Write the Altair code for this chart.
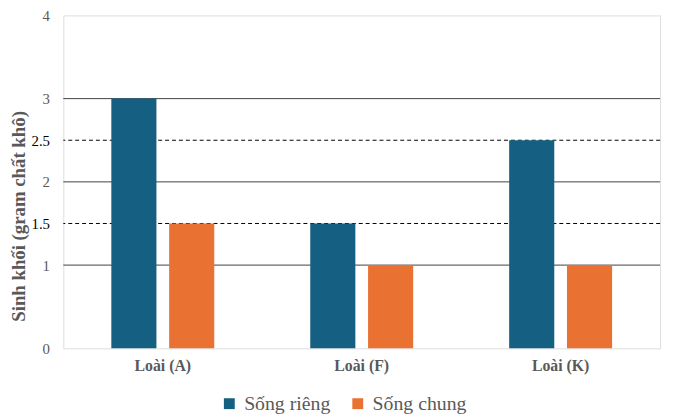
import altair as alt
import pandas as pd

categories = ["Loài (A)", "Loài (F)", "Loài (K)"]
series = ["Sống riêng", "Sống chung"]
song_rieng = [3, 1.5, 2.5]
song_chung = [1.5, 1, 1]
y_ticks = [0, 1, 1.5, 2, 2.5, 3, 4]
solid_grid = [1, 2, 3]
dashed_grid = [1.5, 2.5]
colors = ["#156082", "#E97132"]

FONT = "Liberation Serif"
GREY = "#595959"

rows = []
for c, a, b in zip(categories, song_rieng, song_chung):
    rows.append({"cat": c, "series": series[0], "value": a})
    rows.append({"cat": c, "series": series[1], "value": b})
df = pd.DataFrame(rows)

solid_df = pd.DataFrame({"y": solid_grid})
dashed_df = pd.DataFrame({"y": dashed_grid})

yscale = alt.Scale(domain=[0, 4], nice=False)

solid = alt.Chart(solid_df).mark_rule(color="#404040", strokeWidth=1).encode(
    y=alt.Y("y:Q", scale=yscale)
)
dashed = alt.Chart(dashed_df).mark_rule(color="#000000", strokeWidth=1, strokeDash=[4, 3]).encode(
    y=alt.Y("y:Q", scale=yscale)
)

bars = alt.Chart(df).mark_bar().encode(
    x=alt.X(
        "cat:N",
        sort=categories,
        scale=alt.Scale(paddingInner=0, paddingOuter=0),
        axis=alt.Axis(
            title=None,
            labelAngle=0,
            ticks=False,
            domain=False,
            labelFont=FONT,
            labelFontSize=16,
            labelFontWeight="bold",
            labelColor=GREY,
            labelPadding=9,
        ),
    ),
    xOffset=alt.XOffset(
        "series:N",
        sort=series,
        scale=alt.Scale(paddingInner=0.22, paddingOuter=0.83),
    ),
    y=alt.Y(
        "value:Q",
        scale=yscale,
        axis=alt.Axis(
            title="Sinh khối (gram chất khô)",
            values=y_ticks,
            format="~g",
            grid=False,
            ticks=False,
            domain=False,
            labelFont=FONT,
            labelFontSize=15,
            labelColor=alt.condition(
                "datum.value == 1.5 || datum.value == 2.5",
                alt.value("#000000"),
                alt.value(GREY),
            ),
            labelPadding=14,
            titleFont=FONT,
            titleFontSize=19,
            titleFontWeight="bold",
            titleColor=GREY,
            titleBaseline="middle",
            titleX=-45,
            titleY=203,
        ),
    ),
    color=alt.Color(
        "series:N",
        sort=series,
        scale=alt.Scale(domain=series, range=colors),
        legend=alt.Legend(
            title=None,
            orient="none",
            legendX=158,
            legendY=383,
            direction="horizontal",
            symbolType="square",
            symbolSize=121,
            symbolStrokeWidth=0,
            labelFont=FONT,
            labelFontSize=20,
            labelColor=GREY,
            labelOffset=5,
            columnPadding=17,
        ),
    ),
)

chart = (
    alt.layer(solid, dashed, bars)
    .properties(
        width=604,
        height=337,
        autosize=alt.AutoSizeParams(type="none"),
        padding={"left": 56, "top": 5, "right": 8, "bottom": 66},
    )
    .configure_view(stroke="#404040", strokeWidth=1)
    .configure(background="white")
)

chart.save("out.html", embed_options={"renderer": "svg", "actions": False})
